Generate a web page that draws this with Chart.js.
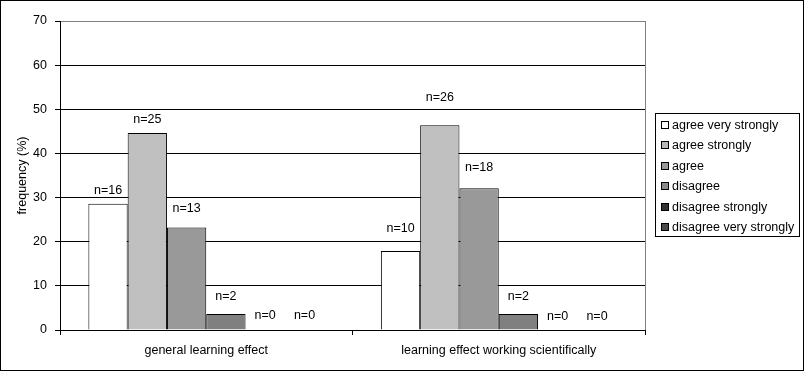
<!DOCTYPE html>
<html><head><meta charset="utf-8">
<script src="https://cdn.jsdelivr.net/npm/chart.js@4/dist/chart.umd.min.js"></script>
<style>html,body{margin:0;padding:0;background:#fff;} #wrap{width:804px;height:371px;}</style>
</head><body><div id="wrap"><canvas id="c" width="804" height="371"></canvas></div>
<script>
// ---- data ----
const categories = ['general learning effect', 'learning effect working scientifically'];
const seriesNames = ['agree very strongly', 'agree strongly', 'agree', 'disagree', 'disagree strongly', 'disagree very strongly'];
const generalLearningPct = [28.6, 44.6, 23.2, 3.6, 0, 0];
const workingScientificallyPct = [17.9, 46.4, 32.1, 3.6, 0, 0];
const generalLearningN = [16, 25, 13, 2, 0, 0];
const workingScientificallyN = [10, 26, 18, 2, 0, 0];
const yTickStep = 10;
const yMax = 70;
const yAxisTitle = 'frequency (%)';

// ---- style ----
const seriesColors = ['#ffffff', '#c0c0c0', '#999999', '#808080', '#333333', '#4a4a4a'];
const legendSwatchColors = ['#ffffff', '#b8b8b8', '#999999', '#888888', '#333333', '#4a4a4a'];
const labelLift = [[13, 14, 19, 18, 14, 14], [22, 28, 21, 18, 13, 13]];
const FONT = '"Liberation Sans", Arial, sans-serif';
const FS = 12.5;

const pctByCat = [generalLearningPct, workingScientificallyPct];
const nByCat = [generalLearningN, workingScientificallyN];

const datasets = seriesNames.map((name, s) => ({
  label: name,
  data: pctByCat.map(arr => arr[s]),
  backgroundColor: seriesColors[s],
  borderColor: '#000',
  borderWidth: 1,
  borderSkipped: 'bottom',
  categoryPercentage: 0.806,
  barPercentage: 1.0
}));

const decor = {
  id: 'decor',
  beforeDraw(chart) {
    const c = chart.ctx;
    c.save();
    c.fillStyle = '#fff';
    c.fillRect(0, 0, chart.width, chart.height);
    c.restore();
  },
  afterDatasetsDraw(chart) {
    const c = chart.ctx;
    c.save();
    c.font = FS + 'px ' + FONT;
    c.fillStyle = '#000';
    c.textAlign = 'center';
    c.textBaseline = 'middle';
    chart.data.datasets.forEach((ds, s) => {
      const meta = chart.getDatasetMeta(s);
      meta.data.forEach((bar, k) => {
        c.fillText('n=' + nByCat[k][s], bar.x, bar.y - labelLift[k][s]);
      });
    });
    c.restore();
  },
  afterDraw(chart) {
    const c = chart.ctx;
    const a = chart.chartArea;
    c.save();
    c.strokeStyle = '#808080';
    c.lineWidth = 1;
    c.beginPath();
    c.moveTo(Math.round(a.right) + 0.5, a.top);
    c.lineTo(Math.round(a.right) + 0.5, a.bottom);
    c.stroke();
    const lx = 655, ly = 113, lw = 144, lh = 123, rowH = 20.4;
    c.strokeStyle = '#000';
    c.strokeRect(lx + 0.5, ly + 0.5, lw, lh);
    c.font = FS + 'px ' + FONT;
    c.textAlign = 'left';
    c.textBaseline = 'middle';
    seriesNames.forEach((name, s) => {
      const cy = Math.round(ly + 12 + s * rowH);
      c.fillStyle = legendSwatchColors[s];
      c.fillRect(lx + 6.5, cy - 3.5, 7, 7);
      c.strokeStyle = '#000';
      c.strokeRect(lx + 6.5, cy - 3.5, 7, 7);
      c.fillStyle = '#000';
      c.fillText(name, lx + 17, cy + 0.5);
    });
    c.strokeStyle = '#000';
    c.lineWidth = 1;
    c.strokeRect(0.5, 0.5, chart.width - 1, chart.height - 1);
    c.restore();
  }
};

new Chart(document.getElementById('c'), {
  type: 'bar',
  data: { labels: categories, datasets },
  plugins: [decor],
  options: {
    responsive: false,
    animation: false,
    devicePixelRatio: 1,
    layout: { padding: { top: 21, right: 159, left: 0, bottom: 0 } },
    plugins: { legend: { display: false }, tooltip: { enabled: false } },
    scales: {
      x: {
        afterFit(s) { s.height = 41; },
        grid: { display: true, drawOnChartArea: false, tickLength: 5, color: '#000', offset: true },
        border: { color: '#000' },
        ticks: { color: '#000', font: { family: FONT, size: FS }, padding: 8, maxRotation: 0 }
      },
      y: {
        min: 0, max: yMax,
        afterFit(s) { s.width = 60; },
        grid: {
          color: ctx => (ctx.tick && ctx.tick.value === yMax) ? '#808080' : '#000',
          tickColor: '#000', tickLength: 5
        },
        border: { color: '#000' },
        ticks: { stepSize: yTickStep, color: '#000', font: { family: FONT, size: FS }, padding: 8 },
        title: { display: true, text: yAxisTitle, color: '#000', font: { family: FONT, size: FS }, padding: { top: 15, bottom: 0 } }
      }
    }
  }
});
</script>
</body></html>
